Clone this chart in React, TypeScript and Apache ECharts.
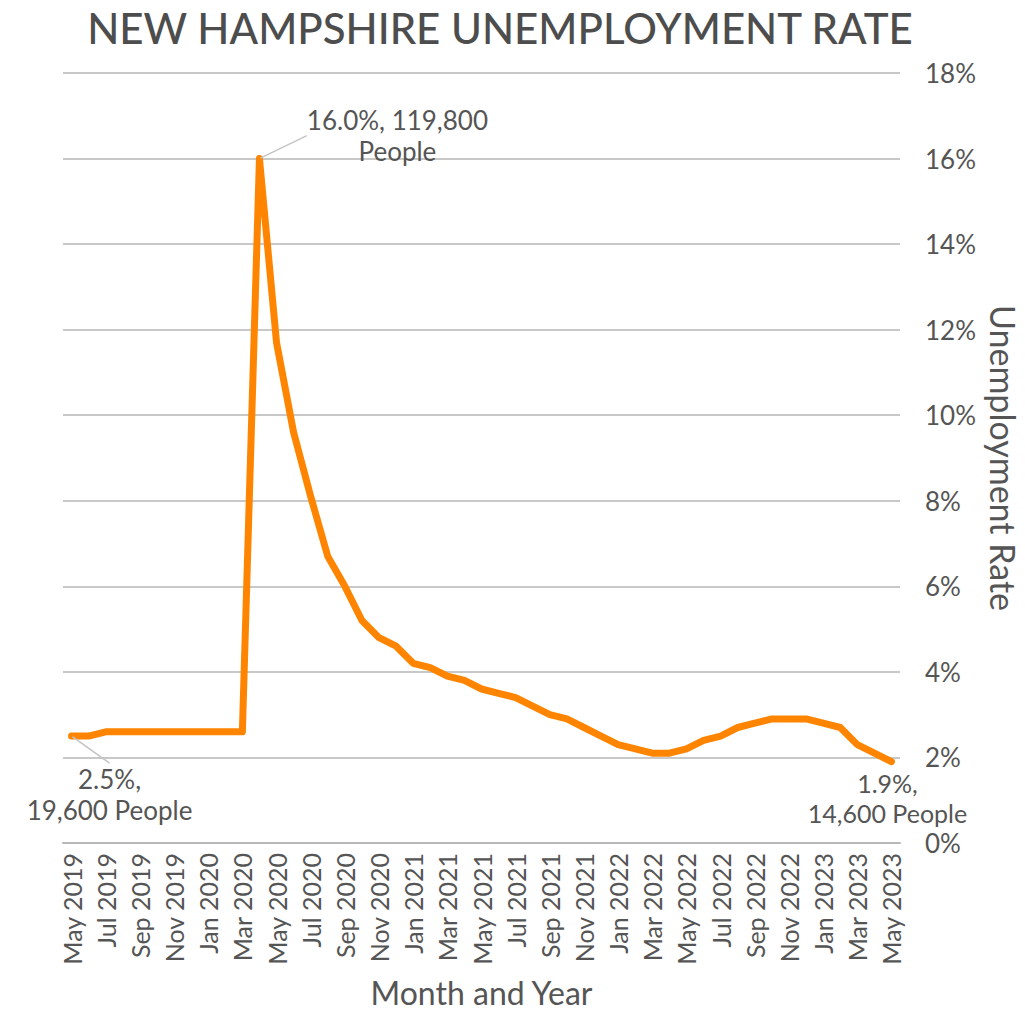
import React, { useEffect, useRef } from "react";
import * as echarts from "echarts";

const months = [
  "May 2019", "Jun 2019", "Jul 2019", "Aug 2019", "Sep 2019", "Oct 2019", "Nov 2019", "Dec 2019",
  "Jan 2020", "Feb 2020", "Mar 2020", "Apr 2020", "May 2020", "Jun 2020", "Jul 2020", "Aug 2020",
  "Sep 2020", "Oct 2020", "Nov 2020", "Dec 2020", "Jan 2021", "Feb 2021", "Mar 2021", "Apr 2021",
  "May 2021", "Jun 2021", "Jul 2021", "Aug 2021", "Sep 2021", "Oct 2021", "Nov 2021", "Dec 2021",
  "Jan 2022", "Feb 2022", "Mar 2022", "Apr 2022", "May 2022", "Jun 2022", "Jul 2022", "Aug 2022",
  "Sep 2022", "Oct 2022", "Nov 2022", "Dec 2022", "Jan 2023", "Feb 2023", "Mar 2023", "Apr 2023",
  "May 2023",
];

const rates = [
  2.5, 2.5, 2.6, 2.6, 2.6, 2.6, 2.6, 2.6,
  2.6, 2.6, 2.6, 16.0, 11.7, 9.6, 8.1, 6.7,
  6.0, 5.2, 4.8, 4.6, 4.2, 4.1, 3.9, 3.8,
  3.6, 3.5, 3.4, 3.2, 3.0, 2.9, 2.7, 2.5,
  2.3, 2.2, 2.1, 2.1, 2.2, 2.4, 2.5, 2.7,
  2.8, 2.9, 2.9, 2.9, 2.8, 2.7, 2.3, 2.1,
  1.9,
];

const annotations = [
  { index: 0, text: "2.5%,\n19,600 People", dx: 38, dy: 95, fontSize: 26, lineHeight: 31, line: true },
  { index: 11, text: "16.0%, 119,800\nPeople", dx: 138, dy: 14, fontSize: 26, lineHeight: 31, line: true },
  { index: 48, text: "1.9%,\n14,600 People", dx: -4, dy: 72, fontSize: 25, lineHeight: 30, line: false },
];

const yTicks = { min: 0, max: 18, interval: 2 };

const FONT = "Lato";
const TEXT = "#555555";

export default function App() {
  const ref = useRef<HTMLDivElement>(null);

  useEffect(() => {
    document.body.style.margin = "0";
    const chart = echarts.init(ref.current!, null, { renderer: "svg" });

    const data = rates.map((v, i) => {
      const a = annotations.find((x) => x.index === i);
      if (!a) return v;
      return {
        value: v,
        label: {
          show: true,
          position: "top",
          distance: 5,
          formatter: a.text,
          align: "center",
          fontFamily: FONT,
          fontSize: a.fontSize,
          lineHeight: a.lineHeight,
          color: TEXT,
        },
        labelLine: {
          show: a.line,
          lineStyle: { color: "#c4c4c4", width: 1.5 },
        },
      };
    });

    chart.setOption({
      animation: false,
      backgroundColor: "#ffffff",
      title: {
        text: "NEW HAMPSHIRE UNEMPLOYMENT RATE",
        left: 495,
        textAlign: "center",
        top: 2,
        textStyle: {
          fontFamily: FONT,
          fontSize: 42,
          fontWeight: 500,
          color: "#4d4d4d",
        },
      },
      grid: {
        left: 63,
        right: 125,
        top: 73,
        bottom: 167,
        containLabel: false,
        outerBoundsMode: "none",
      },
      xAxis: {
        type: "category",
        data: months,
        boundaryGap: true,
        name: "Month and Year",
        nameLocation: "middle",
        nameGap: 133,
        nameTextStyle: { fontFamily: FONT, fontSize: 32, lineHeight: 32, color: TEXT },
        axisLine: { show: true, lineStyle: { color: "#b8b8b8", width: 2 } },
        axisTick: { show: false },
        axisLabel: {
          interval: 1,
          rotate: 90,
          margin: 10,
          fontFamily: FONT,
          fontSize: 25,
          color: TEXT,
        },
      },
      yAxis: {
        type: "value",
        position: "right",
        min: yTicks.min,
        max: yTicks.max,
        interval: yTicks.interval,
        name: "Unemployment Rate",
        nameLocation: "middle",
        nameRotate: -90,
        nameGap: 72,
        nameTextStyle: { fontFamily: FONT, fontSize: 34, color: TEXT },
        axisLine: { show: false },
        axisTick: { show: false },
        axisLabel: {
          formatter: "{value}%",
          margin: 25,
          fontFamily: FONT,
          fontSize: 26,
          color: TEXT,
        },
        splitLine: { lineStyle: { color: "#c8c8c8", width: 2 } },
      },
      series: [
        {
          type: "line",
          data,
          symbol: "circle",
          symbolSize: 2,
          showSymbol: true,
          showAllSymbol: true,
          itemStyle: { color: "#FF8500" },
          lineStyle: { color: "#FF8500", width: 7, join: "round", cap: "round" },
          labelLayout: (params: any) => {
            const a = annotations.find((x) => x.index === params.dataIndex);
            if (!a) return {};
            return { dx: a.dx, dy: a.dy };
          },
        },
      ],
    });

    return () => chart.dispose();
  }, []);

  return <div ref={ref} style={{ width: 1025, height: 1010 }} />;
}
